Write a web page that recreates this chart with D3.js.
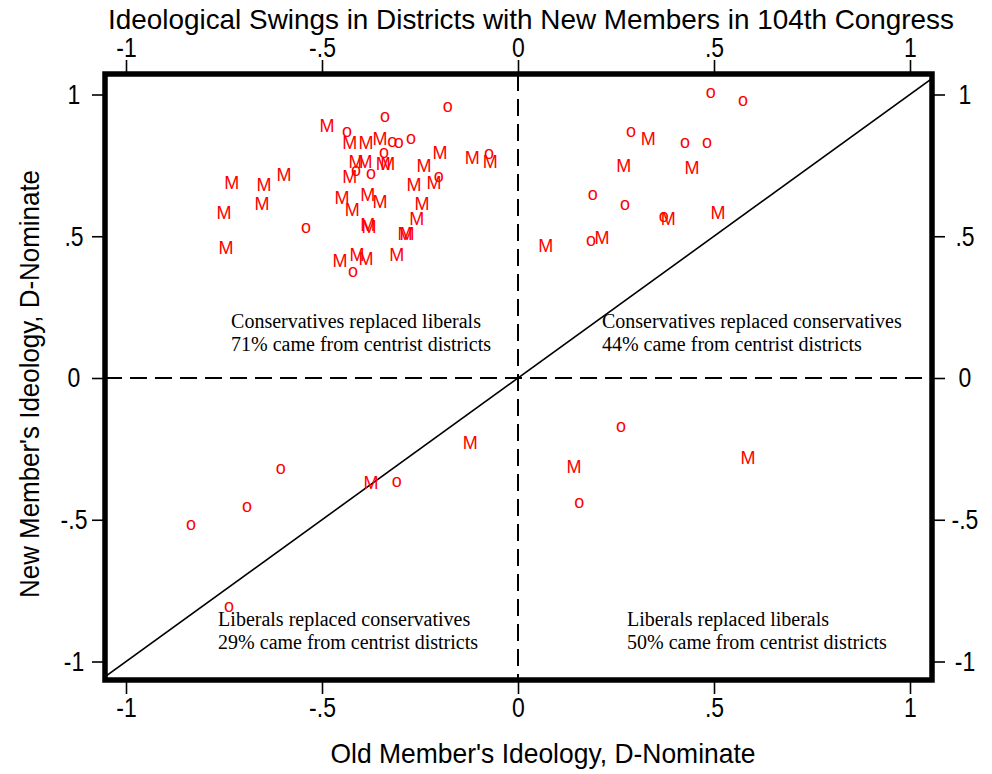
<!DOCTYPE html>
<meta charset="utf-8">
<style>
  body { margin: 0; background: #fff; }
  svg { display: block; }
</style>
<div id="chart"></div>
<script src="https://cdn.jsdelivr.net/npm/d3@7"></script>
<script>

// members whose district marker is "M" : old member ideology, new member ideology
var mOld = [-0.487, -0.429, -0.388, -0.352, -0.413, -0.390, -0.344, -0.332, -0.429, -0.199,
            -0.117, -0.071, -0.240, -0.265, -0.214, -0.730, -0.648, -0.597, -0.653, -0.750,
            -0.745, -0.449, -0.383, -0.352, -0.423, -0.383, -0.380, -0.288, -0.283, -0.258,
            -0.245, -0.454, -0.411, -0.388, -0.309,
             0.332,  0.270,  0.444,  0.383,  0.510,  0.071,  0.214,
            -0.122, -0.375,
             0.143,  0.587];
var mNew = [ 0.889,  0.829,  0.829,  0.843,  0.765,  0.762,  0.758,  0.755,  0.709,  0.797,
             0.776,  0.765,  0.751,  0.684,  0.688,  0.691,  0.681,  0.716,  0.617,  0.582,
             0.462,  0.638,  0.646,  0.621,  0.596,  0.543,  0.533,  0.511,  0.511,  0.561,
             0.617,  0.416,  0.434,  0.420,  0.434,
             0.843,  0.751,  0.744,  0.561,  0.582,  0.469,  0.497,
            -0.226, -0.370,
            -0.314, -0.279];

// members whose district marker is "o"
var oOld = [-0.436, -0.339, -0.179, -0.321, -0.304, -0.273, -0.342, -0.413, -0.375, -0.074,
            -0.202, -0.541, -0.421,
             0.492,  0.574,  0.288,  0.426,  0.482,  0.191,  0.273,  0.372,  0.186,
            -0.309, -0.605, -0.691, -0.834, -0.737,
             0.263,  0.156];
var oNew = [ 0.868,  0.921,  0.956,  0.832,  0.829,  0.843,  0.794,  0.730,  0.720,  0.790,
             0.709,  0.529,  0.374,
             1.005,  0.977,  0.868,  0.829,  0.829,  0.646,  0.610,  0.568,  0.483,
            -0.367, -0.321, -0.455, -0.519, -0.808,
            -0.173, -0.441];

var tickValues = [-1, -0.5, 0, 0.5, 1];
var tickLabels = ["-1", "-.5", "0", ".5", "1"];

// quadrant notes (data coords of first baseline)
var noteX = [-0.732, 0.214, -0.765, 0.278];
var noteY = [0.176, 0.176, -0.875, -0.875];
var noteLines = [
  ["Conservatives replaced liberals", "71% came from centrist districts"],
  ["Conservatives replaced conservatives", "44% came from centrist districts"],
  ["Liberals replaced conservatives", "29% came from centrist districts"],
  ["Liberals replaced liberals", "50% came from centrist districts"]
];

var W = 992, H = 774;
var frame = {left: 105, right: 932, top: 74, bottom: 680};

var svg = d3.select("#chart").append("svg")
    .attr("width", W)
    .attr("height", H);

var x = d3.scaleLinear().domain([-1, 1]).range([126, 910]);
var y = d3.scaleLinear().domain([-1, 1]).range([661.5, 94.5]);

var sans = "'Liberation Sans Narrow', 'Arial Narrow', 'Liberation Sans', Arial, sans-serif";

// squeeze a text horizontally so it looks like the narrow font of the original
function narrow(sel, k) {
  sel.each(function() {
    var w = this.getComputedTextLength();
    d3.select(this)
        .attr("textLength", w * k)
        .attr("lengthAdjust", "spacingAndGlyphs");
  });
}

svg.append("clipPath").attr("id", "plotclip")
  .append("rect")
    .attr("x", frame.left).attr("y", frame.top)
    .attr("width", frame.right - frame.left)
    .attr("height", frame.bottom - frame.top);

var plot = svg.append("g").attr("clip-path", "url(#plotclip)");

// dashed zero lines
plot.append("line")
    .attr("x1", x(0)).attr("x2", x(0))
    .attr("y1", frame.top).attr("y2", frame.bottom)
    .attr("stroke", "#000").attr("stroke-width", 2)
    .attr("stroke-dasharray", "17,8");
plot.append("line")
    .attr("x1", frame.left).attr("x2", frame.right)
    .attr("y1", y(0)).attr("y2", y(0))
    .attr("stroke", "#000").attr("stroke-width", 2)
    .attr("stroke-dasharray", "17,8");

// 45 degree line
plot.append("line")
    .attr("x1", x(-1.2)).attr("y1", y(-1.2))
    .attr("x2", x(1.2)).attr("y2", y(1.2))
    .attr("stroke", "#000").attr("stroke-width", 1.6);

// notes
noteLines.forEach(function(lines, i) {
  var t = plot.append("text")
      .attr("x", x(noteX[i]))
      .attr("y", y(noteY[i]))
      .attr("font-family", "'Liberation Serif', 'Times New Roman', serif")
      .attr("font-size", 20)
      .attr("fill", "#000");
  lines.forEach(function(s, j) {
    t.append("tspan")
        .attr("x", x(noteX[i]))
        .attr("dy", j === 0 ? 0 : 22.5)
        .text(s);
  });
});

// markers
var markers = [];
mOld.forEach(function(d, i) { markers.push({sym: "M", a: d, b: mNew[i]}); });
oOld.forEach(function(d, i) { markers.push({sym: "o", a: d, b: oNew[i]}); });

plot.selectAll("text.mark")
    .data(markers)
  .enter().append("text")
    .attr("class", "mark")
    .attr("x", function(d) { return x(d.a); })
    .attr("y", function(d) { return y(d.b); })
    .attr("dy", function(d) { return d.sym === "M" ? "0.36em" : "0.27em"; })
    .attr("text-anchor", "middle")
    .attr("font-family", "'Liberation Sans', Arial, sans-serif")
    .attr("font-size", 18)
    .attr("fill", "#ff0000")
    .text(function(d) { return d.sym; });

// frame
svg.append("rect")
    .attr("x", frame.left).attr("y", frame.top)
    .attr("width", frame.right - frame.left)
    .attr("height", frame.bottom - frame.top)
    .attr("fill", "none")
    .attr("stroke", "#000")
    .attr("stroke-width", 5.5);

function fmt(d) { return tickLabels[tickValues.indexOf(d)]; }

function styleAxis(g) {
  g.select(".domain").remove();
  g.selectAll(".tick line").attr("stroke", "#000").attr("stroke-width", 1.6);
  g.selectAll(".tick text")
      .attr("font-family", sans)
      .attr("font-size", 28)
      .attr("fill", "#000")
      .call(narrow, 0.82);
}

svg.append("g")
    .attr("transform", "translate(0," + (frame.bottom + 2) + ")")
    .call(d3.axisBottom(x).tickValues(tickValues).tickFormat(fmt).tickSize(12).tickPadding(3))
    .call(styleAxis);

svg.append("g")
    .attr("transform", "translate(0," + (frame.top - 2) + ")")
    .call(d3.axisTop(x).tickValues(tickValues).tickFormat(fmt).tickSize(12).tickPadding(3))
    .call(styleAxis);

svg.append("g")
    .attr("transform", "translate(" + (frame.left - 2) + ",0)")
    .call(d3.axisLeft(y).tickValues(tickValues).tickFormat(fmt).tickSize(11).tickPadding(4))
    .call(styleAxis)
    .selectAll(".tick text")
      .attr("text-anchor", "middle")
      .attr("x", -29);

svg.append("g")
    .attr("transform", "translate(" + (frame.right + 2) + ",0)")
    .call(d3.axisRight(y).tickValues(tickValues).tickFormat(fmt).tickSize(11).tickPadding(4))
    .call(styleAxis)
    .selectAll(".tick text")
      .attr("text-anchor", "middle")
      .attr("x", 31);

// titles
svg.append("text")
    .attr("x", 531).attr("y", 29)
    .attr("text-anchor", "middle")
    .attr("font-family", sans)
    .attr("font-size", 28)
    .attr("textLength", 846)
    .attr("lengthAdjust", "spacingAndGlyphs")
    .text("Ideological Swings in Districts with New Members in 104th Congress");

svg.append("text")
    .attr("x", 543).attr("y", 763)
    .attr("text-anchor", "middle")
    .attr("font-family", sans)
    .attr("font-size", 28)
    .attr("textLength", 425)
    .attr("lengthAdjust", "spacingAndGlyphs")
    .text("Old Member's Ideology, D-Nominate");

svg.append("text")
    .attr("transform", "translate(39,384) rotate(-90)")
    .attr("text-anchor", "middle")
    .attr("font-family", sans)
    .attr("font-size", 28)
    .attr("textLength", 428)
    .attr("lengthAdjust", "spacingAndGlyphs")
    .text("New Member's Ideology, D-Nominate");

</script>
